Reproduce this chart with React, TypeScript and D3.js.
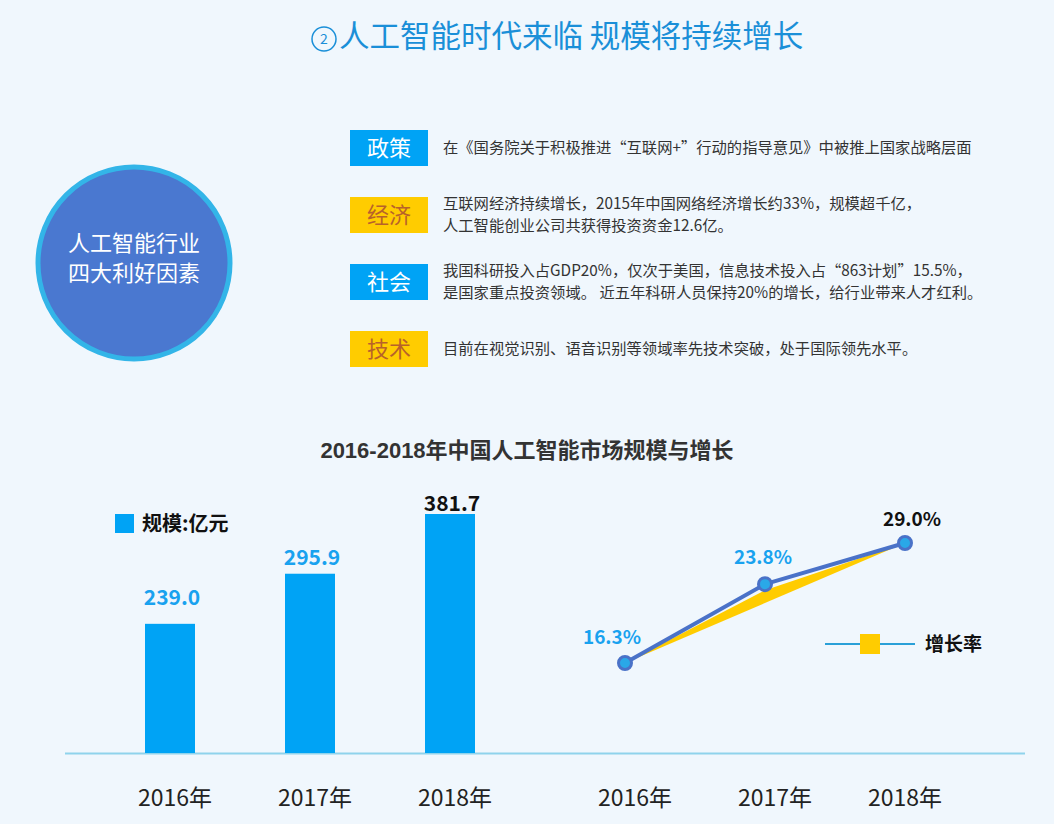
import React from "react";
import * as d3 from "d3";

const years = ["2016年", "2017年", "2018年"];
const scaleValues = [239.0, 295.9, 381.7];
const growthRates = [16.3, 23.8, 29.0];
const tags = ["政策", "经济", "社会", "技术"];
const tagDescriptions = [
  ["在《国务院关于积极推进“互联网+”行动的指导意见》中被推上国家战略层面"],
  ["互联网经济持续增长，2015年中国网络经济增长约33%，规模超千亿，", "人工智能创业公司共获得投资资金12.6亿。"],
  ["我国科研投入占GDP20%，仅次于美国，信息技术投入占“863计划”15.5%，", "是国家重点投资领域。 近五年科研人员保持20%的增长，给行业带来人才红利。"],
  ["目前在视觉识别、语音识别等领域率先技术突破，处于国际领先水平。"],
];

const W = 1054;
const H = 824;
const BG = "#f0f7fd";
const BLUE = "#00a3f5";
const YELLOW = "#ffcc00";
const LINE_BLUE = "#4a72c8";
const CJK = "'Noto Sans CJK SC', 'Microsoft YaHei', sans-serif";

export default function App() {
  const baseY = 753;
  // bar chart scales
  const xBar = d3.scalePoint<string>().domain(years).range([170, 450]);
  const yBar = d3.scaleLog().domain([137.8, 381.7]).range([baseY, 514]);
  const barW = 50;
  const barLabelGap = [19, 9, 3];

  // line chart scales
  const xLine = d3.scalePoint<string>().domain(years).range([625, 905]);
  const yLine = d3.scaleLog().domain([16.3, 29.0]).range([663, 543]);
  const pts: [number, number][] = growthRates.map((v, i) => [xLine(years[i])!, yLine(v)]);
  const lineGen = d3.line();
  const yellowPts: [number, number][] = [pts[0], [pts[1][0], pts[1][1] + 6], pts[2]];
  const areaPath = lineGen(yellowPts)! + "Z";

  const tagY = [130, 197, 264, 331];

  return (
    <svg width={W} height={H} style={{ position: "absolute", left: 0, top: 0, background: BG }} fontFamily={CJK}>
      <rect x={0} y={0} width={W} height={H} fill={BG} />
      {/* Title */}
      <circle cx={324} cy={39} r={12} fill="none" stroke="#1a8fd8" strokeWidth={1.5} />
      <text x={324} y={44} textAnchor="middle" fontSize={14} fill="#1a8fd8">2</text>
      <text x={339} y={47} fontSize={30.5} fill="#1a8fd8">人工智能时代来临 规模将持续增长</text>

      {/* Big circle */}
      <circle cx={134} cy={263} r={96} fill="#4a78d0" stroke="#33b5e8" strokeWidth={5} />
      <text x={134} y={251} textAnchor="middle" fontSize={22} fill="#fff">人工智能行业</text>
      <text x={134} y={281} textAnchor="middle" fontSize={22} fill="#fff">四大利好因素</text>

      {/* Tags */}
      {tags.map((t, i) => {
        const yellow = i % 2 === 1;
        const y0 = tagY[i];
        const lines = tagDescriptions[i];
        return (
          <g key={t}>
            <rect x={350} y={y0} width={78} height={36} fill={yellow ? YELLOW : BLUE} />
            <text x={389} y={y0 + 26} textAnchor="middle" fontSize={22} fill={yellow ? "#b8622a" : "#fff"}>{t}</text>
            {lines.map((l, j) => (
              <text key={j} x={443} y={lines.length === 1 ? y0 + 23 : y0 + 23 - 11 + j * 22} fontSize={15.3} fill="#333">{l}</text>
            ))}
          </g>
        );
      })}

      {/* Chart title */}
      <text x={527} y={458} textAnchor="middle" fontSize={22} fontWeight="bold" fill="#333" fontFamily={"'Liberation Sans', " + CJK}>2016-2018年中国人工智能市场规模与增长</text>

      {/* Axis line */}
      <line x1={65} x2={1025} y1={baseY + 0.5} y2={baseY + 0.5} stroke="#8fd3ec" strokeWidth={2} />

      {/* Bars */}
      {scaleValues.map((v, i) => {
        const cx = xBar(years[i])!;
        const top = yBar(v);
        return (
          <g key={i}>
            <rect x={cx - barW / 2} y={top} width={barW} height={baseY - top} fill={BLUE} />
            <text x={cx + 2} y={top - barLabelGap[i]} textAnchor="middle" fontSize={21} fontWeight="bold" fill={i === 2 ? "#111" : "#19a2ef"}>{v.toFixed(1)}</text>
          </g>
        );
      })}
      {/* Bar legend */}
      <rect x={115} y={514} width={19} height={19} fill={BLUE} />
      <text x={142} y={531} fontSize={20} fontWeight="bold" fill="#111">规模:亿元</text>

      {/* Year labels */}
      {years.map((y, i) => (
        <text key={"b" + i} x={xBar(y)! + 5} y={806} textAnchor="middle" fontSize={23} fill="#222">{y}</text>
      ))}
      {years.map((y, i) => (
        <text key={"l" + i} x={xLine(y)! + (i === 2 ? 0 : 10)} y={806} textAnchor="middle" fontSize={23} fill="#222">{y}</text>
      ))}

      {/* Line chart */}
      <path d={areaPath} fill={YELLOW} />
      <path d={lineGen(pts)!} fill="none" stroke={LINE_BLUE} strokeWidth={4} strokeLinejoin="round" />
      {pts.map((p, i) => (
        <circle key={i} cx={p[0]} cy={p[1]} r={6.5} fill="#2aa8e8" stroke={LINE_BLUE} strokeWidth={3} />
      ))}
      {growthRates.map((v, i) => (
        <text key={i} x={pts[i][0] + [-13, -2, 7][i]} y={pts[i][1] - [19, 20, 17][i]} textAnchor="middle" fontSize={19} fontWeight="bold" fill={i === 2 ? "#111" : "#19a2ef"}>{v.toFixed(1) + "%"}</text>
      ))}
      {/* Line legend */}
      <line x1={825} x2={915} y1={644} y2={644} stroke="#2aa0d8" strokeWidth={2} />
      <rect x={860} y={634} width={20} height={20} fill={YELLOW} />
      <text x={925} y={651} fontSize={19} fontWeight="bold" fill="#111">增长率</text>
    </svg>
  );
}
